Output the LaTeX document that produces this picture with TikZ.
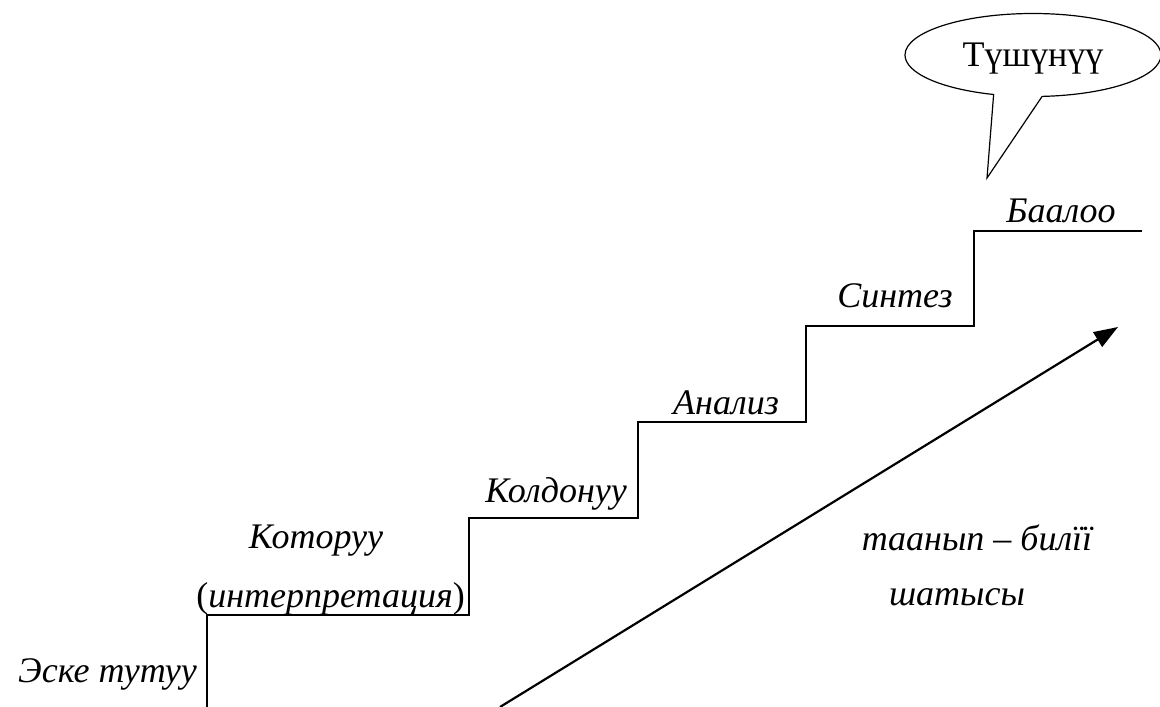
\documentclass[tikz,border=0pt]{standalone}
\usepackage{fontspec}
\setmainfont{Liberation Serif}
\usetikzlibrary{arrows.meta,shapes.callouts}

\begin{document}
\begin{tikzpicture}[x=1pt, y=-1pt,
    lvl/.style={font=\fontsize{36}{40}\selectfont\itshape, inner sep=0pt, anchor=base},
    stair/.style={line width=1.5pt}]
    \useasboundingbox (0,0) rectangle (1160,707);
    % stairs
    \draw[stair] (207,707) -- (207,615) -- (469,615) -- (469,518) -- (638,518) -- (638,422)
        -- (806,422) -- (806,326) -- (974,326) -- (974,231) -- (1142,231);
    % step labels
    \node[lvl, anchor=base east] (remember) at (197,682) {Эске тутуу};
    \node[lvl] (translate) at (316,548) {Которуу};
    \node[lvl, anchor=base east] (interp) at (465,607) {\textup{(}интерпретация\textup{)}};
    \node[lvl, anchor=base east] (apply) at (627,502) {Колдонуу};
    \node[lvl] (analysis) at (726,414) {Анализ};
    \node[lvl] (synth) at (895,307) {Синтез};
    \node[lvl] (evaluate) at (1061,222) {Баалоо};
    % level arrow
    \coordinate (start) at (500,707);
    \coordinate (top) at (1118,327);
    \draw[-{Triangle[length=24pt,width=17pt]}, line width=2.2pt] (start) -- (top);
    \node[lvl] (level) at (977,550) {таанып – билїї};
    \node[lvl] (levelb) at (957,605) {шатысы};
    % callout
    \node[ellipse callout, draw, line width=1.2pt, inner sep=0pt, text depth=0pt,
        minimum width=256pt, minimum height=83pt,
        callout absolute pointer={(987,178)}, callout pointer arc=22,
        font=\fontsize{36}{40}\selectfont] (understand) at (1033,55) {Түшүнүү};
\end{tikzpicture}
\end{document}
